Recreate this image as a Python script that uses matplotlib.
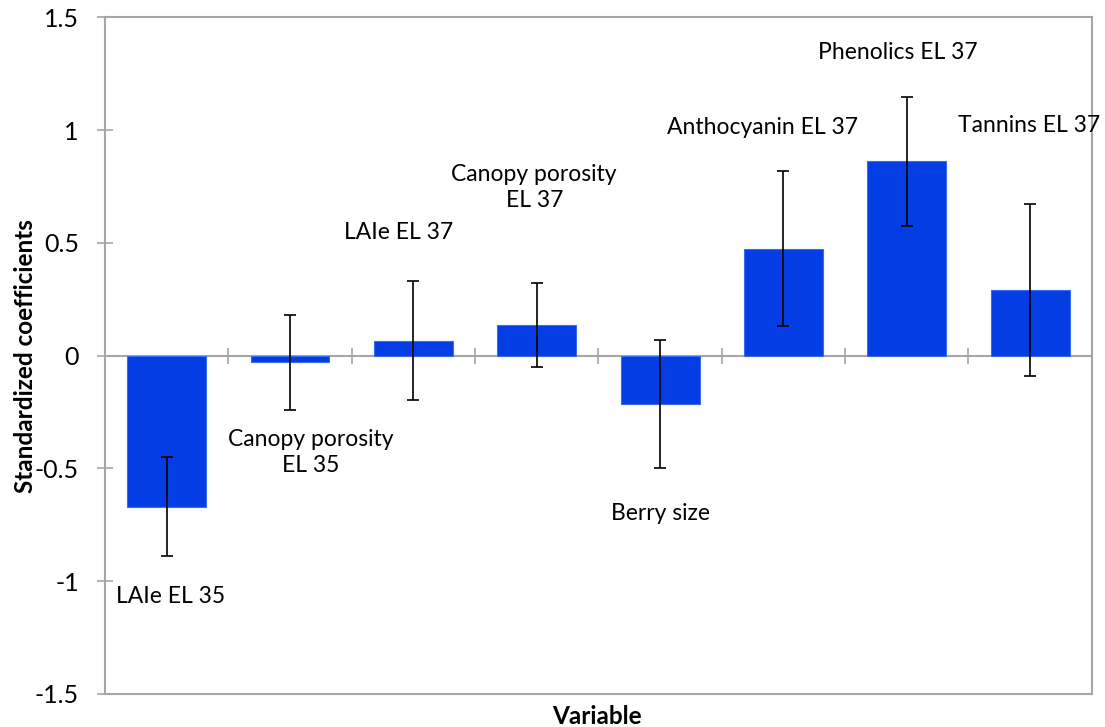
import matplotlib.pyplot as plt
import numpy as np

plt.rcParams['font.family'] = ['Lato', 'DejaVu Sans']

# Standardized coefficients with standard errors
variables = ['LAIe EL 35', 'Canopy porosity\nEL 35', 'LAIe EL 37', 'Canopy porosity\nEL 37',
             'Berry size', 'Anthocyanin EL 37', 'Phenolics EL 37', 'Tannins EL 37']
coefs = [-0.67, -0.03, 0.067, 0.135, -0.213, 0.475, 0.862, 0.291]
errors = [0.22, 0.21, 0.263, 0.186, 0.283, 0.345, 0.285, 0.381]

# label anchor positions (x in category units, y in coefficient units)
label_x = [0.03, 1.17, 1.88, 2.98, 4.0, 4.83, 5.93, 6.99]
label_y = [-1.07, -0.43, 0.545, 0.745, -0.70, 1.01, 1.345, 1.02]

grey = '#a6a6a6'
x = np.arange(len(variables))

fig = plt.figure(figsize=(11.05, 7.27), dpi=100)
ax = fig.add_axes([0.095, 0.0455, 0.893, 0.9305])

ax.bar(x, coefs, width=0.64, color='#033de3', edgecolor='#3a6cf0', linewidth=0.8, zorder=2)
ax.errorbar(x, coefs, yerr=errors, fmt='none', ecolor='black', elinewidth=1.2,
            capsize=4, capthick=1.2, zorder=3)

# zero line with category separators
ax.axhline(0, color=grey, lw=1.5, zorder=1)
ax.plot(np.arange(len(variables)) + 0.5, np.zeros(len(variables)), ls='none',
        marker='|', ms=11.5, mew=1.2, color=grey, zorder=1)

for lx, ly, name in zip(label_x, label_y, variables):
    ax.text(lx, ly, name, ha='center', va='center', fontsize=16.5, linespacing=1.3)

ax.set_xlim(-0.5, len(variables) - 0.5)
ax.set_ylim(-1.5, 1.5)
ax.set_yticks([-1.5, -1, -0.5, 0, 0.5, 1, 1.5])
ax.set_yticklabels(['-1.5', '-1', '-0.5', '0', '0.5', '1', '1.5'])
ax.set_xticks([])
ax.tick_params(axis='y', direction='inout', length=11.5, width=1.2, color=grey,
               labelsize=18, pad=13)

for s in ax.spines.values():
    s.set_color(grey)
    s.set_linewidth(1.5)

ax.set_ylabel('Standardized coefficients', fontsize=17.5, fontweight='bold')
ax.yaxis.set_label_coords(-0.069, 0.5)
ax.set_xlabel('Variable', fontsize=17.5, fontweight='bold')
ax.xaxis.set_label_coords(0.499, -0.016)

plt.savefig('out.png', dpi=100)
